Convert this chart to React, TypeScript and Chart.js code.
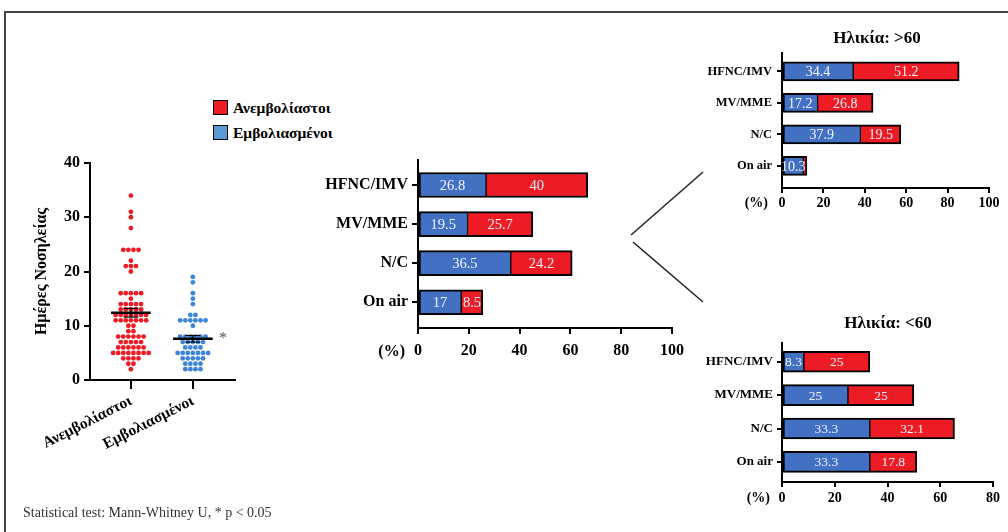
import React, { useEffect, useRef } from "react";
import { Chart, registerables } from "chart.js";

Chart.register(...registerables);

const SERIF = "'Liberation Serif', 'Times New Roman', serif";
Chart.defaults.font.family = SERIF;

const RED = "#ed1c24";
const BAR_BLUE = "#4270c2";
const DOT_BLUE = "#3d85d8";
const LEGEND_BLUE = "#5b9bd5";

// ---------- Dot plot data ----------
const groupLabels = ["Ανεμβολίαστοι", "Εμβολιασμένοι"];
const unvaccinatedDays = [
  34, 31, 30, 28, 24, 24, 24, 24, 22, 21, 21, 21, 20,
  16, 16, 16, 16, 16, 15, 14, 14, 14, 14, 14, 13, 13, 13, 13, 13,
  12, 12, 12, 12, 12, 12, 12, 11, 11, 11, 11, 11, 11, 11,
  10, 10, 9, 9, 8, 8, 8, 8, 8, 8, 7, 7, 7, 7, 7,
  6, 6, 6, 6, 6, 6, 5, 5, 5, 5, 5, 5, 5, 5, 4, 4, 4, 4, 3, 3, 2,
];
const vaccinatedDays = [
  19, 18, 16, 15, 14, 12, 12, 11, 11, 11, 11, 11, 11, 10,
  8, 8, 8, 8, 8, 8, 7, 7, 7, 7, 7, 6, 6, 6, 6,
  5, 5, 5, 5, 5, 5, 5, 4, 4, 4, 4, 4, 3, 3, 3, 3, 2, 2, 2, 2,
];
const groupMeans = [12.4, 7.6];
const groupSems = [0.8, 0.6];

// ---------- Bar chart data ----------
const modalities = ["HFNC/IMV", "MV/MME", "N/C", "On air"];
const allVaccinated = [26.8, 19.5, 36.5, 17];
const allUnvaccinated = [40, 25.7, 24.2, 8.5];
const over60Vaccinated = [34.4, 17.2, 37.9, 10.3];
const over60Unvaccinated = [51.2, 26.8, 19.5, 1.7];
const under60Vaccinated = [8.3, 25, 33.3, 33.3];
const under60Unvaccinated = [25, 25, 32.1, 17.8];

function swarm(values: number[], center: number, step: number) {
  const counts = new Map<number, number>();
  values.forEach((v) => counts.set(v, (counts.get(v) || 0) + 1));
  const seen = new Map<number, number>();
  return values.map((v) => {
    const n = counts.get(v) as number;
    const i = seen.get(v) || 0;
    seen.set(v, i + 1);
    return { x: center + (i - (n - 1) / 2) * step, y: v };
  });
}

const meanPlugin = {
  id: "meanLines",
  afterDatasetsDraw(chart: any) {
    const { ctx } = chart;
    const x = chart.scales.x;
    const y = chart.scales.y;
    ctx.save();
    ctx.strokeStyle = "#000";
    groupMeans.forEach((m: number, i: number) => {
      const c = i + 1;
      const s = groupSems[i];
      const seg = (x1: number, y1: number, x2: number, y2: number) => {
        ctx.beginPath();
        ctx.moveTo(x.getPixelForValue(x1), y.getPixelForValue(y1));
        ctx.lineTo(x.getPixelForValue(x2), y.getPixelForValue(y2));
        ctx.stroke();
      };
      ctx.lineWidth = 1.2;
      seg(c, m - s, c, m + s);
      seg(c - 0.12, m + s, c + 0.12, m + s);
      seg(c - 0.12, m - s, c + 0.12, m - s);
      ctx.lineWidth = 2.5;
      seg(c - 0.32, m, c + 0.32, m);
    });
    ctx.restore();
  },
};

function dotConfig(): any {
  return {
    type: "scatter",
    data: {
      datasets: [
        {
          data: swarm(unvaccinatedDays, 1, 0.082),
          backgroundColor: RED,
          pointRadius: 2.4,
          borderWidth: 0,
        },
        {
          data: swarm(vaccinatedDays, 2, 0.082),
          backgroundColor: DOT_BLUE,
          pointRadius: 2.4,
          borderWidth: 0,
        },
      ],
    },
    plugins: [meanPlugin],
    options: {
      animation: false,
      responsive: false,
      events: [],
      layout: { padding: { left: 0, top: 23, right: 15, bottom: 0 } },
      plugins: { legend: { display: false }, tooltip: { enabled: false } },
      scales: {
        x: {
          type: "linear",
          min: 0.34,
          max: 2.68,
          afterBuildTicks: (s: any) => {
            s.ticks = [{ value: 1 }, { value: 2 }];
          },
          afterFit: (s: any) => {
            s.height = 100;
          },
          grid: {
            display: true,
            drawOnChartArea: false,
            drawTicks: true,
            tickLength: 9,
            color: "#000",
            lineWidth: 2,
          },
          border: { display: true, color: "#000", width: 2 },
          ticks: {
            autoSkip: false,
            callback: (v: number, i: number) => groupLabels[i],
            minRotation: 27,
            maxRotation: 27,
            padding: 3,
            color: "#000",
            font: { family: SERIF, size: 15.5, weight: "bold" },
          },
        },
        y: {
          min: 0,
          max: 40,
          afterFit: (s: any) => {
            s.width = 90;
          },
          grid: {
            display: true,
            drawOnChartArea: false,
            drawTicks: true,
            tickLength: 6,
            color: "#000",
            lineWidth: 2,
          },
          border: { display: true, color: "#000", width: 2 },
          ticks: {
            stepSize: 10,
            padding: 4,
            color: "#000",
            font: { family: SERIF, size: 16, weight: "bold" },
          },
          title: {
            display: true,
            text: "Ημέρες Νοσηλείας",
            color: "#000",
            font: { family: SERIF, size: 16, weight: "bold" },
            padding: { top: 32, bottom: 0 },
          },
        },
      },
    },
  };
}

function makeLabelPlugin(fontSize: number) {
  return {
    id: "barLabels",
    afterDatasetsDraw(chart: any) {
      const { ctx } = chart;
      ctx.save();
      ctx.fillStyle = "#f4f4ff";
      ctx.font = `${fontSize}px ${SERIF}`;
      ctx.textAlign = "center";
      ctx.textBaseline = "middle";
      chart.data.datasets.forEach((ds: any, d: number) => {
        const meta = chart.getDatasetMeta(d);
        meta.data.forEach((bar: any, i: number) => {
          const v = ds.data[i].x;
          if (v < 3) return;
          const p = bar.getProps(["x", "y", "base"], true);
          ctx.fillText(String(v), (p.x + p.base) / 2, p.y + 1);
        });
      });
      ctx.restore();
    },
  };
}

interface BarOpts {
  vacc: number[];
  unvacc: number[];
  yMin: number;
  yMax: number;
  thickness: number;
  xMax: number;
  catFont: number;
  xFont: number;
  labelFont: number;
  yWidth: number;
  xHeight: number;
  padding: { left: number; top: number; right: number; bottom: number };
  tickLen: number;
  yPad: number;
  xPad: number;
}

function barConfig(o: BarOpts): any {
  const mk = (vals: number[], color: string, first: boolean) => ({
    data: vals.map((v, i) => ({ x: v, y: i })),
    backgroundColor: color,
    borderColor: "#000",
    borderWidth: first
      ? { top: 2, bottom: 2, left: 2, right: 1 }
      : { top: 2, bottom: 2, left: 1, right: 2 },
    borderSkipped: false,
    barThickness: o.thickness,
  });
  return {
    type: "bar",
    data: {
      datasets: [mk(o.vacc, BAR_BLUE, true), mk(o.unvacc, RED, false)],
    },
    plugins: [makeLabelPlugin(o.labelFont)],
    options: {
      animation: false,
      responsive: false,
      events: [],
      indexAxis: "y",
      layout: { padding: o.padding },
      plugins: { legend: { display: false }, tooltip: { enabled: false } },
      scales: {
        x: {
          type: "linear",
          stacked: true,
          min: 0,
          max: o.xMax,
          afterFit: (s: any) => {
            s.height = o.xHeight;
          },
          grid: {
            display: true,
            offset: false,
            drawOnChartArea: false,
            drawTicks: true,
            tickLength: o.tickLen,
            color: "#000",
            lineWidth: 2,
          },
          border: { display: true, color: "#000", width: 2 },
          ticks: {
            stepSize: 20,
            padding: o.xPad,
            color: "#000",
            font: { family: SERIF, size: o.xFont, weight: "bold" },
          },
        },
        y: {
          type: "linear",
          stacked: true,
          reverse: true,
          offset: false,
          min: o.yMin,
          max: o.yMax,
          afterBuildTicks: (s: any) => {
            s.ticks = modalities.map((_, i) => ({ value: i }));
          },
          afterFit: (s: any) => {
            s.width = o.yWidth;
          },
          grid: {
            display: true,
            offset: false,
            drawOnChartArea: false,
            drawTicks: true,
            tickLength: o.tickLen,
            color: "#000",
            lineWidth: 2,
          },
          border: { display: true, color: "#000", width: 2 },
          ticks: {
            autoSkip: false,
            callback: (v: number) => modalities[Math.round(v)],
            padding: o.yPad,
            color: "#000",
            font: { family: SERIF, size: o.catFont, weight: "bold" },
          },
        },
      },
    },
  };
}

function ChartCanvas(props: {
  make: () => any;
  left: number;
  top: number;
  width: number;
  height: number;
}) {
  const ref = useRef<HTMLCanvasElement>(null);
  useEffect(() => {
    const chart = new Chart(ref.current as HTMLCanvasElement, props.make());
    return () => chart.destroy();
  }, []);
  return (
    <canvas
      ref={ref}
      width={props.width}
      height={props.height}
      style={{
        position: "absolute",
        left: props.left,
        top: props.top,
        width: props.width,
        height: props.height,
      }}
    />
  );
}

const abs = (extra: any) => ({ position: "absolute" as const, ...extra });

export default function App() {
  return (
    <div
      style={{
        position: "fixed",
        left: 0,
        top: 0,
        width: 1008,
        height: 532,
        background: "#fff",
        overflow: "hidden",
        fontFamily: SERIF,
        color: "#000",
      }}
    >
      {/* frame */}
      <div
        style={abs({
          left: 4,
          top: 11,
          width: 1020,
          height: 540,
          borderTop: "2px solid #444",
          borderLeft: "2px solid #444",
        })}
      />

      {/* legend */}
      <div style={abs({ left: 213, top: 100, width: 13, height: 13, background: RED, border: "1.5px solid #000" })} />
      <div style={abs({ left: 233, top: 98, font: `bold 15.5px ${SERIF}`, lineHeight: "20px", whiteSpace: "nowrap" })}>
        Ανεμβολίαστοι
      </div>
      <div style={abs({ left: 213, top: 125, width: 13, height: 13, background: LEGEND_BLUE, border: "1.5px solid #000" })} />
      <div style={abs({ left: 233, top: 123, font: `bold 15.5px ${SERIF}`, lineHeight: "20px", whiteSpace: "nowrap" })}>
        Εμβολιασμένοι
      </div>

      <ChartCanvas make={dotConfig} left={0} top={140} width={250} height={340} />
      <div style={abs({ left: 219, top: 328, font: `16px ${SERIF}`, color: "#555", lineHeight: "20px" })}>*</div>

      {/* main bar chart */}
      <ChartCanvas
        make={() =>
          barConfig({
            vacc: allVaccinated,
            unvacc: allUnvaccinated,
            yMin: -0.64,
            yMax: 3.66,
            thickness: 25,
            xMax: 100,
            catFont: 16,
            xFont: 16,
            labelFont: 14.5,
            yWidth: 118,
            xHeight: 42,
            padding: { left: 0, top: 20, right: 28, bottom: 0 },
            tickLen: 6,
            yPad: 4,
            xPad: 7,
          })
        }
        left={300}
        top={140}
        width={400}
        height={230}
      />
      <div style={abs({ left: 355, top: 341, width: 50, textAlign: "right", font: `bold 16px ${SERIF}`, lineHeight: "20px" })}>(%)</div>

      {/* connectors */}
      <svg width={1008} height={532} style={abs({ left: 0, top: 0 })}>
        <line x1={631} y1={235} x2={703} y2={172} stroke="#222" strokeWidth={1.5} />
        <line x1={633} y1={242} x2={703} y2={302} stroke="#222" strokeWidth={1.5} />
      </svg>

      {/* age > 60 */}
      <div style={abs({ left: 817, top: 28, width: 120, textAlign: "center", font: `bold 17px ${SERIF}`, lineHeight: "20px" })}>
        Ηλικία: &gt;60
      </div>
      <ChartCanvas
        make={() =>
          barConfig({
            vacc: over60Vaccinated,
            unvacc: over60Unvaccinated,
            yMin: -0.6,
            yMax: 3.7,
            thickness: 19,
            xMax: 100,
            catFont: 12.5,
            xFont: 14,
            labelFont: 14,
            yWidth: 92,
            xHeight: 27,
            padding: { left: 0, top: 12, right: 19, bottom: 0 },
            tickLen: 5,
            yPad: 5,
            xPad: 2,
          })
        }
        left={690}
        top={40}
        width={318}
        height={175}
      />
      <div style={abs({ left: 728, top: 194, width: 40, textAlign: "right", font: `bold 14px ${SERIF}`, lineHeight: "18px" })}>(%)</div>

      {/* age < 60 */}
      <div style={abs({ left: 828, top: 313, width: 120, textAlign: "center", font: `bold 17px ${SERIF}`, lineHeight: "20px" })}>
        Ηλικία: &lt;60
      </div>
      <ChartCanvas
        make={() =>
          barConfig({
            vacc: under60Vaccinated,
            unvacc: under60Unvaccinated,
            yMin: -0.56,
            yMax: 3.6,
            thickness: 21,
            xMax: 80,
            catFont: 13,
            xFont: 14,
            labelFont: 13.5,
            yWidth: 92,
            xHeight: 43,
            padding: { left: 0, top: 13, right: 15, bottom: 0 },
            tickLen: 5,
            yPad: 4,
            xPad: 3,
          })
        }
        left={690}
        top={330}
        width={318}
        height={195}
      />
      <div style={abs({ left: 730, top: 489, width: 40, textAlign: "right", font: `bold 14px ${SERIF}`, lineHeight: "18px" })}>(%)</div>

      {/* footnote */}
      <div style={abs({ left: 23, top: 505, font: `14px ${SERIF}`, color: "#333", lineHeight: "16px", whiteSpace: "nowrap" })}>
        Statistical test: Mann-Whitney U, * p &lt; 0.05
      </div>
    </div>
  );
}
